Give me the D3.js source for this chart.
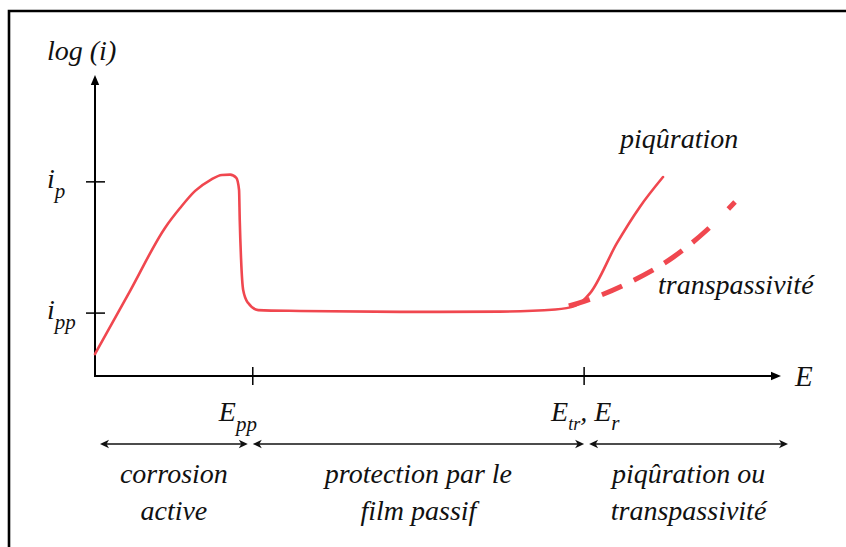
<!DOCTYPE html>
<html><head><meta charset="utf-8"><script src="https://cdn.jsdelivr.net/npm/d3@7"></script></head>
<body style="margin:0;background:#fff">
<div id="wrap" style="position:relative;width:846px;height:547px;overflow:hidden">
<svg id="s" width="846" height="547" style="position:absolute;left:0;top:0"></svg>
</div>
<script>
// ---- data (E in arbitrary units 0..100, log(i) in arbitrary units 0..100) ----
const activeE   = [0, 5.1, 10.2, 12.4, 14.6, 16.8, 18.5, 19.7, 20.6, 21.0, 21.1, 21.3, 21.6, 22.3, 23.8, 29.9, 44.5, 59.0, 67.1, 70.0, 72.2, 76.1, 79.4, 82.8];
const activeLog = [7.3, 28.2, 49.2, 55.8, 61.5, 65.1, 66.8, 66.9, 65.8, 61.8, 51.8, 38.5, 28.6, 24.3, 21.9, 21.6, 21.3, 21.4, 22.1, 23.3, 27.6, 44.2, 56.1, 66.1];
const transE    = [67.1, 71.4, 78.0, 84.3, 89.2, 93.3];
const transLog  = [22.1, 24.9, 31.2, 39.5, 48.5, 57.8];
const yTickVals = [64.5, 20.9];
const yTickBase = ["i", "i"];
const yTickSub  = ["p", "pp"];
const xTickVals = [23.0, 71.3];
const regionLabels = [["corrosion", "active"], ["protection par le", "film passif"], ["piqûration ou", "transpassivité"]];

const svg = d3.select("#s");
const wrap = d3.select("#wrap");
const red = "#f0474f";
const FAMILY = "'P052'";

const x = d3.scaleLinear().domain([0, 100]).range([95, 781]);
const y = d3.scaleLinear().domain([0, 100]).range([376, 75]);

// text labels as positioned HTML text, baseline-aligned using canvas font metrics
const ctx = document.createElement("canvas").getContext("2d");
function label(xp, baseline, size, parts, anchor) {
  ctx.font = `italic ${size}px ${FAMILY}`;
  const m = ctx.measureText("Egpq");
  const asc = m.fontBoundingBoxAscent || size * 0.8;
  const desc = m.fontBoundingBoxDescent || size * 0.25;
  const d = wrap.append("div")
    .style("position", "absolute").style("left", xp + "px").style("top", (baseline - asc) + "px")
    .style("font-family", FAMILY).style("font-style", "italic").style("font-size", size + "px")
    .style("line-height", (asc + desc) + "px").style("white-space", "nowrap").style("color", "#111")
    .style("transform", anchor === "middle" ? "translateX(-50%)" : null);
  parts.forEach(p => {
    const s = d.append("span").text(p.t);
    if (p.sub) {
      s.style("font-size", p.size + "px").style("position", "relative").style("top", p.sub + "px")
        .style("line-height", "0");
    }
  });
  return d;
}

// axis titles
label(47, 60, 28, [{t: "log (i)"}]);
label(795, 386, 29, [{t: "E"}]);

// curve annotations
label(620, 148, 28, [{t: "piqûration"}]);
label(658, 294, 28, [{t: "transpassivité"}]);

// y tick labels
yTickVals.forEach((v, i) => {
  label(47, y(v) + 6, 28, [{t: yTickBase[i]}, {t: yTickSub[i], sub: 10, size: 21}]);
});

// x tick labels
label(x(xTickVals[0]) - 34, 421, 28, [{t: "E"}, {t: "pp", sub: 10, size: 21}]);
label(x(xTickVals[1]) - 33, 421, 28, [{t: "E"}, {t: "tr", sub: 9, size: 18}, {t: ", E"}, {t: "r", sub: 9, size: 21}]);

// region boundaries and labels
const bounds = [[x(0) + 5, x(xTickVals[0]) - 5], [x(xTickVals[0]), x(xTickVals[1])], [x(xTickVals[1]) + 5, x(100) + 7]];
bounds.forEach((b, i) => {
  const cx = (b[0] + b[1]) / 2;
  regionLabels[i].forEach((s, j) => label(cx, 483 + j * 37, 28, [{t: s}], "middle"));
});

// frame
svg.append("path").attr("d", "M9,547 V11 H846").attr("fill", "none").attr("stroke", "#000").attr("stroke-width", 2.6);

// axes with arrowheads
svg.append("line").attr("x1", x(0)).attr("y1", y(0)).attr("x2", x(0)).attr("y2", y(100) + 6)
  .attr("stroke", "#000").attr("stroke-width", 2);
svg.append("path").attr("d", `M${x(0)},${y(100)} l-4.2,10 h8.4 Z`).attr("fill", "#000");
svg.append("line").attr("x1", x(0) - 1).attr("y1", y(0)).attr("x2", x(100) - 6).attr("y2", y(0))
  .attr("stroke", "#000").attr("stroke-width", 2);
svg.append("path").attr("d", `M${x(100)},${y(0)} l-10,-4.2 v8.4 Z`).attr("fill", "#000");

// ticks
yTickVals.forEach(v => {
  svg.append("line").attr("x1", x(0) - 9).attr("x2", x(0) + 10).attr("y1", y(v)).attr("y2", y(v))
    .attr("stroke", "#000").attr("stroke-width", 1.5);
});
xTickVals.forEach(v => {
  svg.append("line").attr("x1", x(v)).attr("x2", x(v)).attr("y1", y(0) - 9).attr("y2", y(0) + 9)
    .attr("stroke", "#000").attr("stroke-width", 1.5);
});

// double arrows
bounds.forEach(b => {
  svg.append("line").attr("x1", b[0] + 4).attr("x2", b[1] - 4).attr("y1", 444).attr("y2", 444)
    .attr("stroke", "#111").attr("stroke-width", 1.4);
  svg.append("path").attr("d", `M${b[0]},444 l9,-4.2 l-2.5,4.2 l2.5,4.2 Z`).attr("fill", "#111");
  svg.append("path").attr("d", `M${b[1]},444 l-9,-4.2 l2.5,4.2 l-2.5,4.2 Z`).attr("fill", "#111");
});

// curves
const line = d3.line().x(d => x(d[0])).y(d => y(d[1])).curve(d3.curveMonotoneX);
svg.append("path").datum(activeE.map((e, i) => [e, activeLog[i]]))
  .attr("d", line).attr("fill", "none").attr("stroke", red).attr("stroke-width", 2.6)
  .attr("stroke-linecap", "round").attr("stroke-linejoin", "round");
svg.append("path").datum(transE.map((e, i) => [e, transLog[i]]))
  .attr("d", line).attr("fill", "none").attr("stroke", red).attr("stroke-width", 5)
  .attr("stroke-dasharray", "0,14,22,13,22,13,22,13,22,13,22,13");
</script></body></html>
